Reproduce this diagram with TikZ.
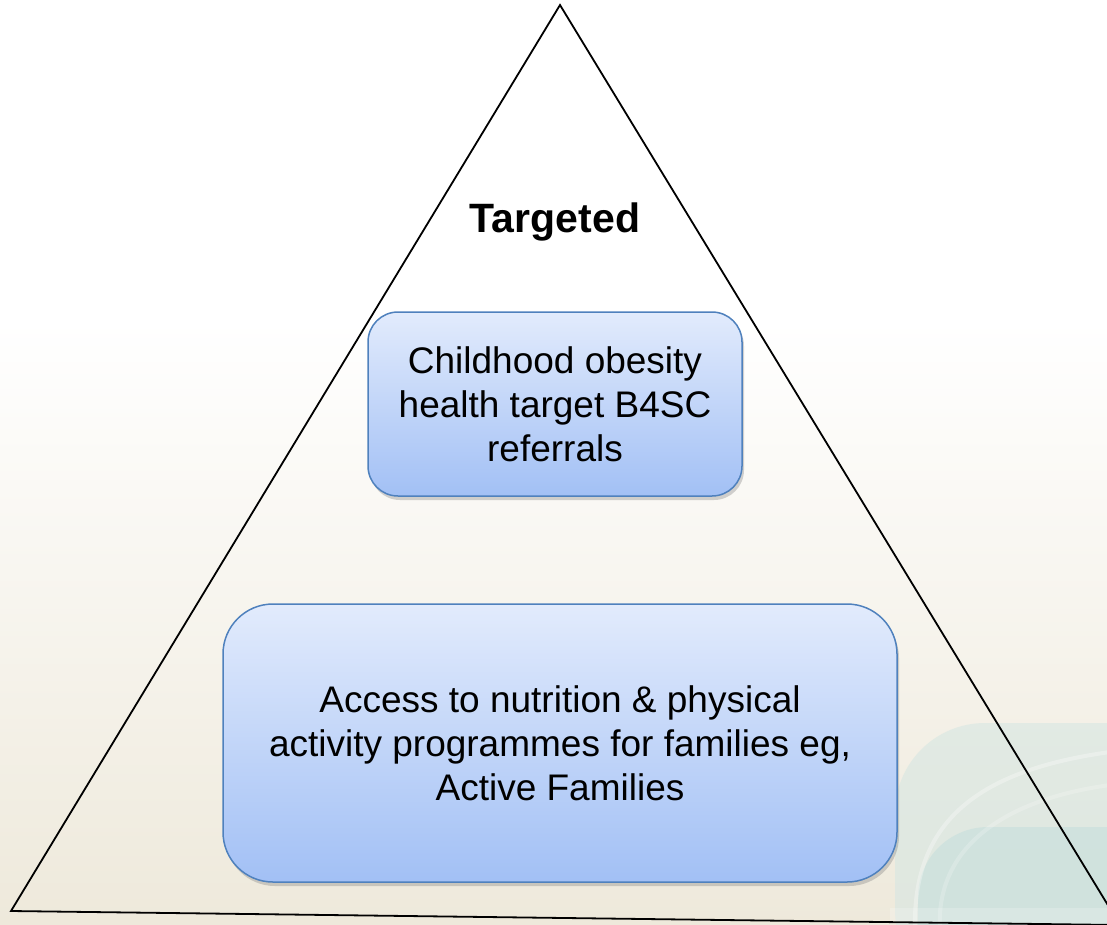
\documentclass[tikz,border=0pt]{standalone}
\usepackage{fontspec}
\setmainfont{Liberation Sans}
\usetikzlibrary{shadows,shadings}
\definecolor{beige}{RGB}{238,233,219}
\definecolor{boxtop}{RGB}{226,235,252}
\definecolor{boxbot}{RGB}{162,192,245}
\definecolor{boxline}{RGB}{79,129,189}
\definecolor{swirla}{RGB}{214,230,226}
\definecolor{swirlb}{RGB}{196,222,220}
\tikzset{
  levelbox/.style={rounded corners=#1, top color=boxtop, bottom color=boxbot,
    draw=boxline, line width=1.5pt, align=center, inner sep=0pt,
    font=\fontsize{37}{44}\selectfont,
    drop shadow={shadow xshift=2pt, shadow yshift=-4pt, opacity=0.35}},
  edge/.style={draw=black, line width=1.8pt},
  stripe/.style={draw=white, opacity=0.3, line width=4pt}
}
\begin{document}
\begin{tikzpicture}[x=1pt,y=-1pt]
\useasboundingbox (0,0) rectangle (1107,924);
% background
\fill[white] (0,0) rectangle (1107,924);
\shade[top color=white, bottom color=beige] (0,320) rectangle (1107,924);
\begin{scope}
  \clip (890,690) rectangle (1107,924);
  \fill[swirla, opacity=0.6, rounded corners=90pt] (895,723) rectangle (1300,1000);
  \fill[swirlb, opacity=0.55, rounded corners=70pt] (918,827) rectangle (1300,1000);
  \draw[stripe] (915,930) .. controls (912,820) and (980,770) .. (1110,752);
  \draw[stripe, opacity=0.2] (940,930) .. controls (935,850) and (1000,800) .. (1110,785);
  \fill[white, opacity=0.2] (890,908) rectangle (1107,924);
\end{scope}
% triangle
\coordinate (apex) at (560,5);
\coordinate (bl) at (11,911);
\coordinate (br) at (1120,925);
\draw[edge, line join=miter] (apex) -- (bl) -- (br) -- cycle;
% texts and boxes
\node[font=\bfseries\fontsize{41}{48}\selectfont] (title) at (555,222) {Targeted};
\node[levelbox=30pt, minimum width=374pt, minimum height=184pt] (upper) at (555,404)
  {Childhood obesity\\health target B4SC\\referrals};
\node[levelbox=50pt, minimum width=674pt, minimum height=278pt] (lower) at (560,743)
  {Access to nutrition \& physical\\activity programmes for families eg,\\Active Families};
\end{tikzpicture}
\end{document}
